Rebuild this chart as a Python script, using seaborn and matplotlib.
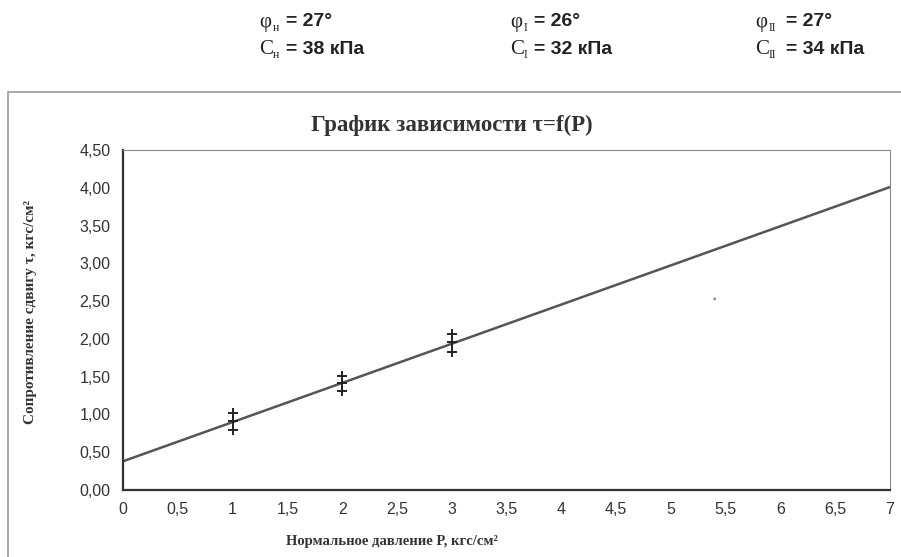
import matplotlib
matplotlib.use("Agg")
import matplotlib.pyplot as plt
from matplotlib.patches import Rectangle
import seaborn as sns
import pandas as pd

# Header values (strength parameters)
symbols = ["φ", "φ", "φ"]
subscripts = ["н", "I", "II"]
phi_values = ["27°", "26°", "27°"]
c_values = ["38 кПа", "32 кПа", "34 кПа"]

# Trend line tau = f(P), endpoints
line_p = [0, 7]
line_tau = [0.38, 4.01]

# Test points (three per normal pressure)
points_p = [1, 1, 1, 2, 2, 2, 3, 3, 3]
points_tau = [1.02, 0.91, 0.79, 1.51, 1.42, 1.31, 2.06, 1.96, 1.83]

# stray dot on the scan
stray_p = [5.4]
stray_tau = [2.53]

x_ticks = [0, 0.5, 1, 1.5, 2, 2.5, 3, 3.5, 4, 4.5, 5, 5.5, 6, 6.5, 7]
y_ticks = [0, 0.5, 1, 1.5, 2, 2.5, 3, 3.5, 4, 4.5]

W, H = 901, 557

sns.set_style("white")
plt.rcParams['font.family'] = ['Liberation Sans', 'DejaVu Sans']

fig = plt.figure(figsize=(W / 100, H / 100), dpi=100)


def px(x, y):
    """pixel coords -> figure fraction"""
    return x / W, 1 - y / H


# outer chart box
x0, y0 = px(8, 92)
x1, y1 = px(902, 560)
fig.patches.append(Rectangle((x0, y1), x1 - x0, y0 - y1, transform=fig.transFigure,
                             fill=False, edgecolor="#9a9a9a", linewidth=1.2))

# header texts
col_x = [259, 510, 755]
sub_off = [14, 14, 14]
eq_off = [27, 24, 31]
for i in range(3):
    for row, (sym, val) in enumerate([(symbols[i], phi_values[i]), ("C", c_values[i])]):
        yc = 22 + row * 27
        fig.text(*px(col_x[i], yc), sym, family="Liberation Serif", fontsize=15,
                 va="center", ha="left", color="#222222")
        fig.text(*px(col_x[i] + sub_off[i], yc + 6), subscripts[i], family="Liberation Serif",
                 fontsize=8.5, va="center", ha="left", color="#222222")
        fig.text(*px(col_x[i] + eq_off[i], yc), "= " + val, family="Liberation Sans",
                 fontsize=14, fontweight="bold", va="center", ha="left", color="#222222")

ax = fig.add_axes([123 / W, 1 - 490 / H, (890 - 123) / W, (490 - 150) / H])

line_df = pd.DataFrame({"P": line_p, "tau": line_tau})
pts_df = pd.DataFrame({"P": points_p, "tau": points_tau})
stray_df = pd.DataFrame({"P": stray_p, "tau": stray_tau})

sns.lineplot(data=line_df, x="P", y="tau", ax=ax, color="#555555", linewidth=1.8)
sns.scatterplot(data=pts_df, x="P", y="tau", ax=ax, marker="+", s=45,
                color="#222222", linewidth=1.4, zorder=5)
sns.scatterplot(data=stray_df, x="P", y="tau", ax=ax, s=4, color="#888888",
                edgecolor="none")

ax.set_xlim(0, 7)
ax.set_ylim(0, 4.5)
ax.set_xticks(x_ticks)
ax.set_yticks(y_ticks)
ax.set_xticklabels([f"{t:g}".replace(".", ",") for t in x_ticks])
ax.set_yticklabels([f"{t:.2f}".replace(".", ",") for t in y_ticks])
ax.tick_params(axis="both", direction="inout", length=8, width=1.3,
               labelsize=11.5, colors="#333333", pad=5)

for side in ["left", "bottom"]:
    ax.spines[side].set_color("#333333")
    ax.spines[side].set_linewidth(1.6)
for side in ["top", "right"]:
    ax.spines[side].set_color("#8a8a8a")
    ax.spines[side].set_linewidth(0.8)
    ax.spines[side].set_linestyle((0, (2, 1)))

ax.set_xlabel("")
ax.set_ylabel("")

fig.text(*px(452, 125), "График зависимости τ=f(P)", family="Liberation Serif",
         fontsize=16.5, fontweight="bold", ha="center", va="center", color="#333333")
fig.text(*px(31, 312), "Сопротивление сдвигу τ, кгс/см²", family="Liberation Serif",
         fontsize=11, fontweight="bold", rotation=90, ha="center", va="center",
         color="#333333")
fig.text(*px(392, 542), "Нормальное давление P, кгс/см²", family="Liberation Serif",
         fontsize=10.5, fontweight="bold", ha="center", va="center", color="#333333")

fig.savefig("out.png", dpi=100)
